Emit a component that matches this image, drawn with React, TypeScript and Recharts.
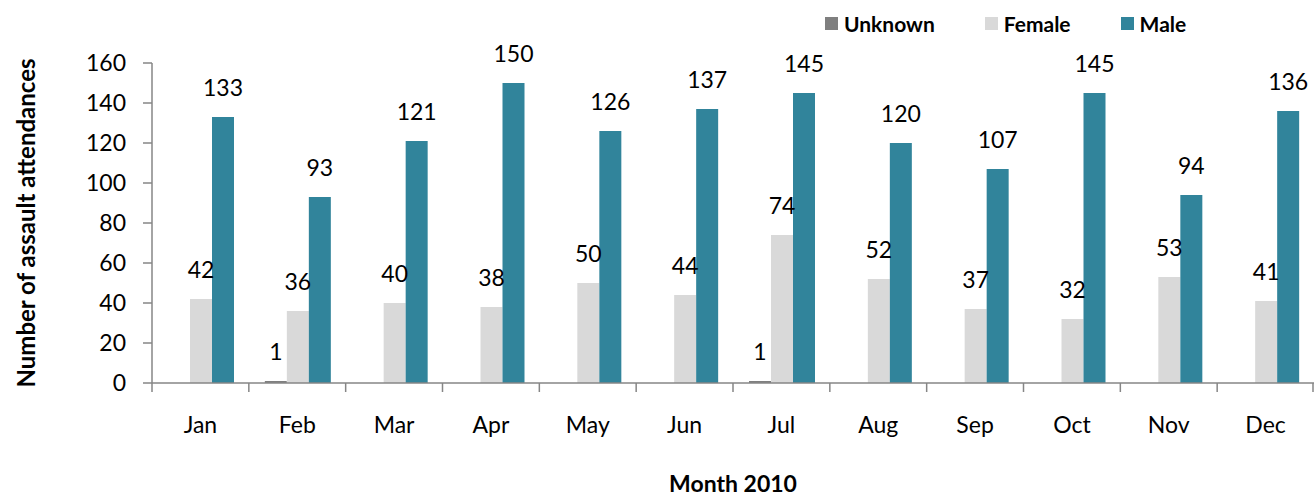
import { Bar, BarChart, LabelList, Legend, XAxis, YAxis } from "recharts"

const months = ["Jan", "Feb", "Mar", "Apr", "May", "Jun", "Jul", "Aug", "Sep", "Oct", "Nov", "Dec"]
const unknown = [0, 1, 0, 0, 0, 0, 1, 0, 0, 0, 0, 0]
const female = [42, 36, 40, 38, 50, 44, 74, 52, 37, 32, 53, 41]
const male = [133, 93, 121, 150, 126, 137, 145, 120, 107, 145, 94, 136]
const yTicks = [0, 20, 40, 60, 80, 100, 120, 140, 160]

const data = months.map((m, i) => ({
  month: m,
  unknown: unknown[i],
  female: female[i],
  male: male[i],
}))

const FONT = "Lato, 'Open Sans', sans-serif"
const AXIS = "#868686"

const series = [
  { key: "unknown", name: "Unknown", color: "#7f7f7f" },
  { key: "female", name: "Female", color: "#d9d9d9" },
  { key: "male", name: "Male", color: "#31849b" },
]

function MonthTick(props: any) {
  const { x, y, payload, index, visibleTicksCount } = props
  const half = payload?.offset || 48.4
  const last = index === visibleTicksCount - 1
  return (
    <g>
      <line x1={x - half} x2={x - half} y1={y} y2={y + 9} stroke={AXIS} strokeWidth={1.5} />
      {last && <line x1={x + half - 1} x2={x + half - 1} y1={y} y2={y + 9} stroke={AXIS} strokeWidth={1.5} />}
      <text x={x} y={y + 50} textAnchor="middle" fontSize={23} fontFamily={FONT} fill="#000">
        {payload.value}
      </text>
    </g>
  )
}

function LegendBox() {
  return (
    <div style={{ display: "flex", fontFamily: FONT, fontWeight: 700, fontSize: 21, color: "#000" }}>
      {series.map((s) => (
        <div key={s.key} style={{ display: "flex", alignItems: "center", marginRight: 50 }}>
          <span style={{ width: 13, height: 13, background: s.color, display: "inline-block", marginRight: 6 }} />
          <span>{s.name}</span>
        </div>
      ))}
    </div>
  )
}

const hideZero = (v: any) => (v === 0 ? "" : v)

export default function App() {
  return (
    <div style={{ position: "absolute", left: 0, top: 0, background: "#fff" }}>
      <BarChart
        width={1314}
        height={497}
        data={data}
        margin={{ top: 23, right: 0, left: 0, bottom: 0 }}
        barCategoryGap={16}
        barGap={0}
      >
        <Legend
          verticalAlign="top"
          align="left"
          height={40}
          content={() => <LegendBox />}
          wrapperStyle={{ top: 11, left: 825, width: 480 }}
        />
        <XAxis
          dataKey="month"
          axisLine={{ stroke: AXIS, strokeWidth: 1.5 }}
          tickLine={false}
          tickSize={0}
          tickMargin={0}
          height={114}
          interval={0}
          tick={(p: any) => <MonthTick {...p} />}
          label={{
            content: (p: any) => {
              const vb = p.viewBox
              return (
                <text x={vb.x + vb.width / 2} y={vb.y + 109} textAnchor="middle" fontSize={23} fontWeight={700} fontFamily={FONT} fill="#000">
                  Month 2010
                </text>
              )
            },
          }}
        />
        <YAxis
          domain={[0, 160]}
          ticks={yTicks}
          width={152}
          axisLine={{ stroke: AXIS, strokeWidth: 1.5 }}
          tickLine={{ stroke: AXIS, strokeWidth: 1.5 }}
          tickSize={9}
          tickMargin={17}
          tick={{ fontSize: 23, fontFamily: FONT, fill: "#000" }}
          label={{
            content: (p: any) => {
              const vb = p.viewBox
              const cy = vb.y + vb.height / 2
              return (
                <text
                  x={25}
                  y={cy}
                  transform={`rotate(-90, 25, ${cy})`}
                  textAnchor="middle"
                  dominantBaseline="central"
                  fontSize={24}
                  fontWeight={700}
                  fontFamily={FONT}
                  fill="#000"
                >
                  Number of assault attendances
                </text>
              )
            },
          }}
        />
        {series.map((s) => (
          <Bar key={s.key} dataKey={s.key} name={s.name} fill={s.color} isAnimationActive={false}>
            <LabelList
              dataKey={s.key}
              position="top"
              offset={21}
              formatter={hideZero}
              style={{ fontSize: 23, fontFamily: FONT, fill: "#000" }}
            />
          </Bar>
        ))}
      </BarChart>
    </div>
  )
}
